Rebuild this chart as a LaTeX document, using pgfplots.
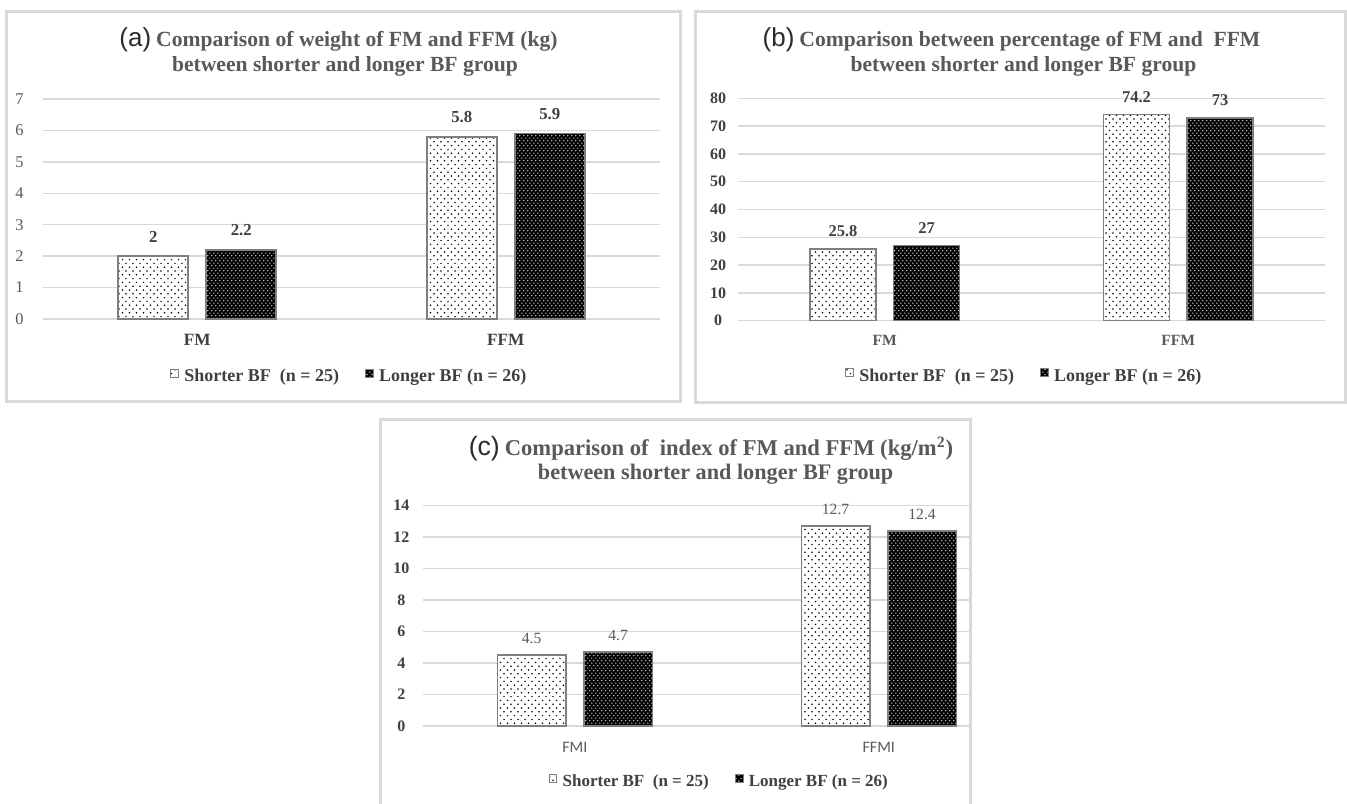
\documentclass[border=0pt]{standalone}
\usepackage{pgfplots}
\pgfplotsset{compat=1.18}
\usepackage{fontspec}
\setmainfont{Liberation Serif}
\setsansfont{Liberation Sans}
\newfontfamily\calibri{Carlito}
\usetikzlibrary{patterns}

\definecolor{framegray}{HTML}{D9D9D9}
\definecolor{gridgray}{HTML}{D9D9D9}
\definecolor{titlegray}{HTML}{595959}
\definecolor{darktext}{HTML}{404040}
\definecolor{labeltext}{HTML}{2B2B2B}
\definecolor{bordergray}{HTML}{7F7F7F}

\pgfdeclarepatternformonly{lightdots}{\pgfqpoint{-0.5pt}{-0.5pt}}{\pgfqpoint{3pt}{3.3pt}}{\pgfqpoint{3.5pt}{3.8pt}}%
{\pgfpathcircle{\pgfqpoint{0pt}{0pt}}{0.42pt}\pgfpathcircle{\pgfqpoint{1.75pt}{1.9pt}}{0.42pt}\pgfusepath{fill}}
\pgfdeclarepatternformonly{darkdots}{\pgfqpoint{-0.5pt}{-0.5pt}}{\pgfqpoint{1.7pt}{2.2pt}}{\pgfqpoint{2.2pt}{2.7pt}}%
{\pgfpathcircle{\pgfqpoint{0pt}{0pt}}{0.38pt}\pgfpathcircle{\pgfqpoint{1.1pt}{1.35pt}}{0.38pt}\pgfusepath{fill}}

\pgfplotsset{
  panel/.style={
    scale only axis,
    ybar,
    ymin=0,
    xmin=-0.5, xmax=1.5,
    enlargelimits=false,
    xtick={0,1},
    axis x line*=bottom, axis y line*=left,
    x axis line style={draw=gridgray, line width=0.75pt, -},
    y axis line style={draw=none},
    tick style={draw=none},
    major tick length=0pt,
    ymajorgrids,
    major grid style={draw=gridgray, line width=0.75pt},
    /pgf/number format/assume math mode=true,
    nodes near coords,
    every node near coord/.append style={inner sep=0pt},
    legend columns=2,
    legend style={draw=none, fill=none, inner sep=0pt, outer sep=0pt, anchor=center,
       nodes={inner sep=0pt},
       /tikz/every odd column/.append style={column sep=2.6pt},
       /tikz/every even column/.append style={column sep=13pt}},
    clip=false,
  },
  sqlegend/.style={legend image code/.code={\draw[##1, line width=0.5pt] (0pt,-0.1pt) rectangle (3.9pt,3.8pt);}},
  shorter/.style={fill=white, draw=bordergray, line width=0.8pt, postaction={pattern=lightdots, pattern color=black}, sqlegend},
  longer/.style={fill=black, draw=bordergray, line width=0.8pt, postaction={pattern=darkdots, pattern color=white}, sqlegend},
}

\begin{document}
\begin{tikzpicture}
\useasboundingbox (0,0) rectangle (673.5pt,401.5pt);
\fill[white] (0,0) rectangle (673.5pt,401.5pt);

% frames
\draw[framegray, line width=1.5pt] (3.25pt,200.5pt) rectangle (340pt,395.75pt);
\draw[framegray, line width=1.5pt] (347.5pt,200pt) rectangle (672.5pt,395.75pt);
\draw[framegray, line width=1.5pt] (190pt,-3pt) rectangle (485pt,191.5pt);

% titles
\node[anchor=base, inner sep=0pt, text=titlegray] at (169.25pt,378.1pt)
  {{\sffamily\fontsize{13}{15}\selectfont\color{labeltext}(a)} \bfseries\fontsize{10.8}{13}\selectfont Comparison of weight of FM and FFM (kg)};
\node[anchor=base, inner sep=0pt, text=titlegray] at (172.5pt,365.6pt)
  {\bfseries\fontsize{10.8}{13}\selectfont between shorter and longer BF group};
\node[anchor=base, inner sep=0pt, text=titlegray] at (505.75pt,378.1pt)
  {{\sffamily\fontsize{13}{15}\selectfont\color{labeltext}(b)} \bfseries\fontsize{10.8}{13}\selectfont Comparison between percentage of FM and\ \ FFM};
\node[anchor=base, inner sep=0pt, text=titlegray] at (511.75pt,365.6pt)
  {\bfseries\fontsize{10.8}{13}\selectfont between shorter and longer BF group};
\node[anchor=base, inner sep=0pt, text=titlegray] at (355.5pt,173.9pt)
  {{\sffamily\fontsize{13.3}{15}\selectfont\color{labeltext}(c)} \bfseries\fontsize{11.3}{13}\selectfont Comparison of\ \ index of FM and FFM (kg/m\textsuperscript{2})};
\node[anchor=base, inner sep=0pt, text=titlegray] at (357.8pt,161.6pt)
  {\bfseries\fontsize{11.1}{13}\selectfont between shorter and longer BF group};

% panel (a)
\begin{axis}[panel,
  at={(21.5pt,242pt)}, anchor=south west,
  width=308.5pt, height=110pt,
  bar width=35pt, ybar=9pt,
  ymax=7, ytick={0,1,...,7},
  yticklabel style={font=\fontsize{8.2}{9}\selectfont, text=titlegray, anchor=center, xshift=-11.75pt},
  xticklabels={FM,FFM},
  xticklabel style={font=\bfseries\fontsize{8.6}{10}\selectfont, text=darktext, anchor=base, yshift=-13.35pt},
  every node near coord/.append style={font=\bfseries\fontsize{8.4}{10}\selectfont, text=darktext, yshift=6.5pt},
  legend style={at={(0.495,-0.262)}, font=\bfseries\fontsize{9}{10}\selectfont, text=darktext},
]
\addplot[shorter] coordinates {(0,2) (1,5.8)};
\addplot[longer] coordinates {(0,2.2) (1,5.9)};
\legend{Shorter BF\ \ (n = 25), Longer BF (n = 26)}
\end{axis}

% panel (b)
\begin{axis}[panel,
  at={(369pt,241.15pt)}, anchor=south west,
  width=293.5pt, height=111.2pt,
  bar width=33pt, ybar=8.75pt,
  ymax=80, ytick={0,10,...,80},
  yticklabel style={font=\bfseries\fontsize{8}{9}\selectfont, text=darktext, anchor=center, xshift=-10pt},
  xticklabels={FM,FFM},
  xticklabel style={font=\bfseries\fontsize{7.8}{9}\selectfont, text=titlegray, anchor=base, yshift=-12.25pt},
  every node near coord/.append style={font=\bfseries\fontsize{8.25}{10}\selectfont, text=darktext, yshift=5.6pt},
  legend style={at={(0.486,-0.25)}, font=\bfseries\fontsize{9}{10}\selectfont, text=darktext},
]
\addplot[shorter] coordinates {(0,25.8) (1,74.2)};
\addplot[longer] coordinates {(0,27) (1,73)};
\legend{Shorter BF\ \ (n = 25), Longer BF (n = 26)}
\end{axis}

% panel (c)
\begin{axis}[panel,
  at={(211.4pt,38.5pt)}, anchor=south west,
  width=273.6pt, height=110.15pt,
  xmax=1.3,
  bar width=34.25pt, ybar=9pt,
  ymax=14, ytick={0,2,...,14},
  yticklabel style={font=\bfseries\fontsize{8}{9}\selectfont, text=darktext, anchor=center, xshift=-10.7pt},
  xticklabels={FMI,FFMI},
  xticklabel style={font=\calibri\fontsize{8}{9}\selectfont, text=titlegray, anchor=base, yshift=-13.25pt},
  every node near coord/.append style={font=\fontsize{7.8}{9}\selectfont, text=titlegray, yshift=5.25pt},
  legend style={at={(0.54,-0.255)}, font=\bfseries\fontsize{8.5}{10}\selectfont, text=darktext},
]
\addplot[shorter] coordinates {(0,4.5) (1,12.7)};
\addplot[longer] coordinates {(0,4.7) (1,12.4)};
\legend{Shorter BF\ \ (n = 25), Longer BF (n = 26)}
\end{axis}
\end{tikzpicture}
\end{document}
